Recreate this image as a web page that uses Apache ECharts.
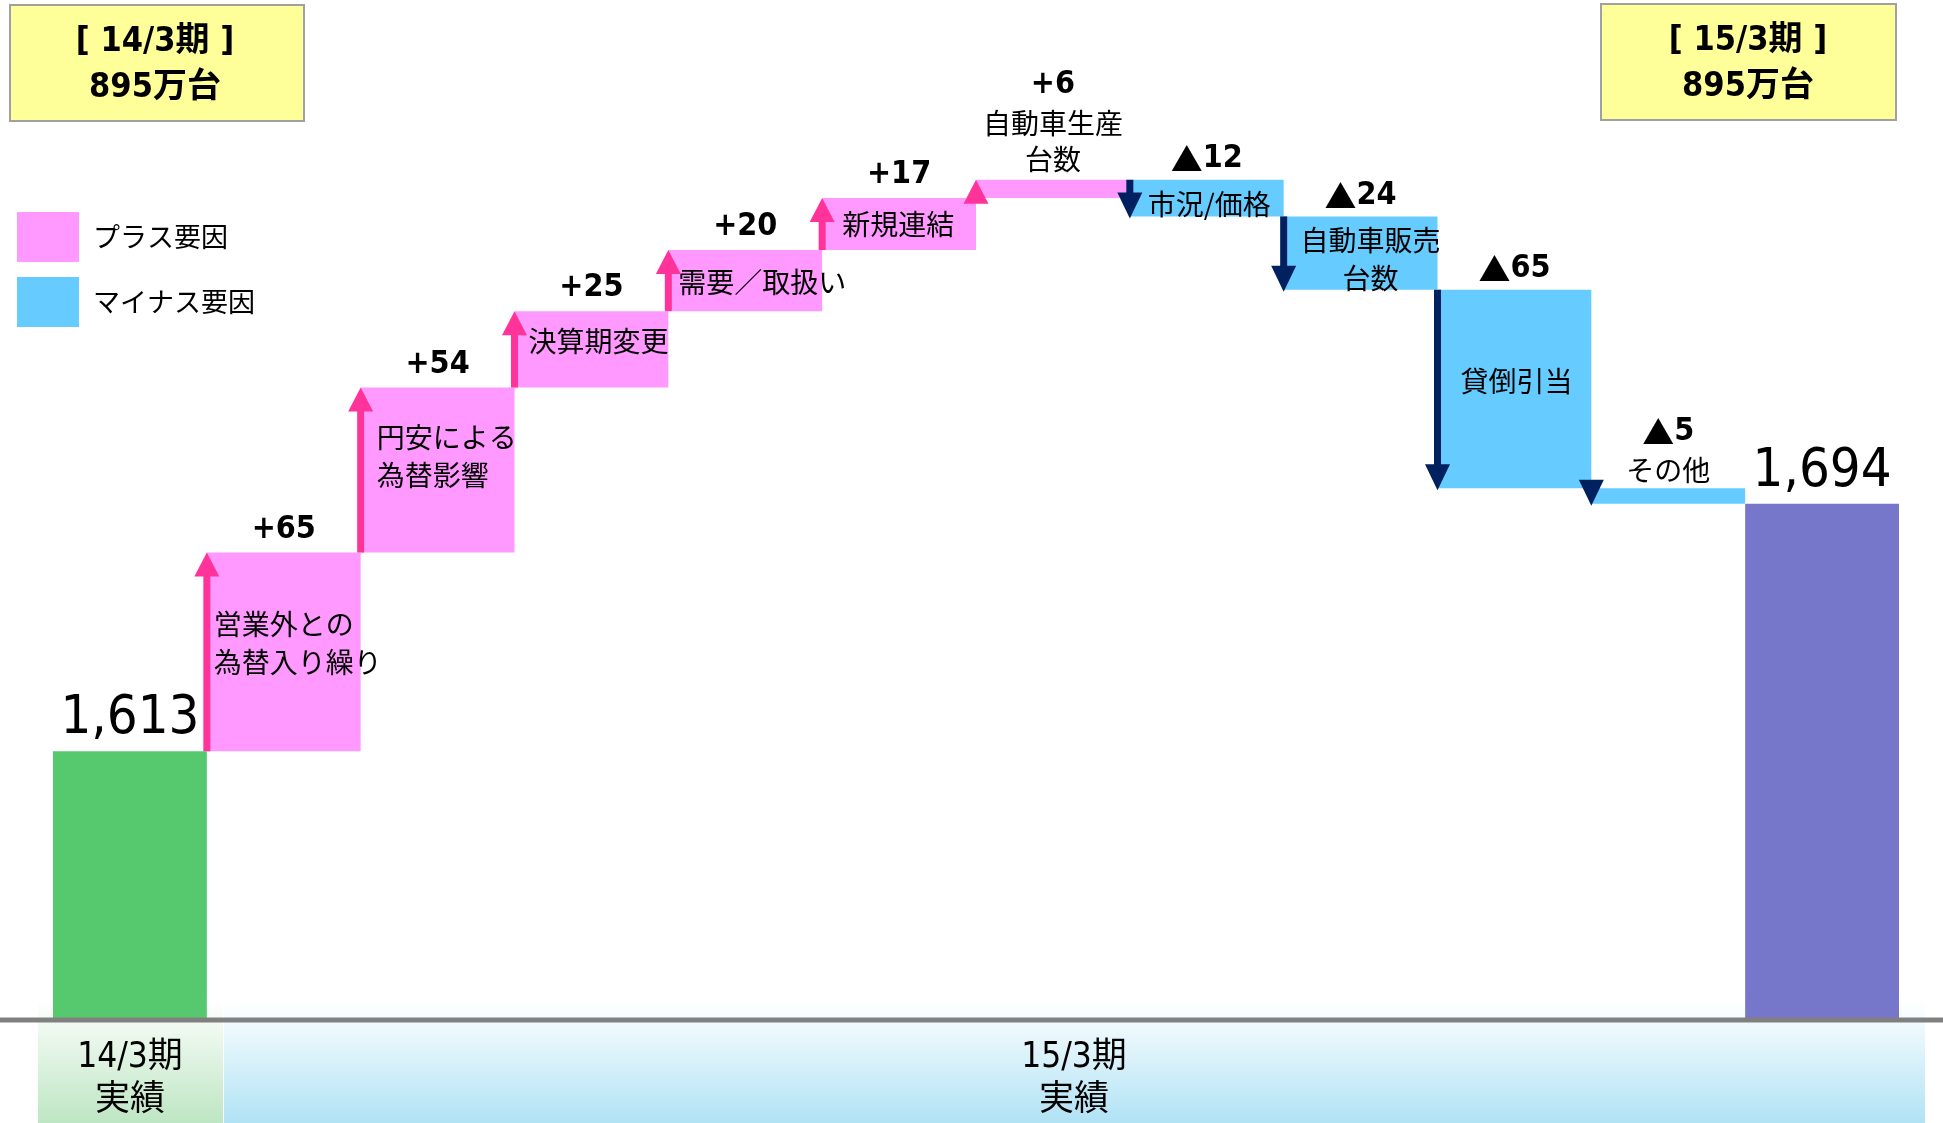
<!DOCTYPE html>
<html><head><meta charset="utf-8">
<script src="https://cdn.jsdelivr.net/npm/echarts@6/dist/echarts.min.js"></script>
<style>html,body{margin:0;padding:0;background:#fff}#c{width:1943px;height:1123px}</style>
</head><body><div id="c"></div>
<script>
// ---- data ----
const categories = ['14/3期実績','営業外との為替入り繰り','円安による為替影響','決算期変更','需要／取扱い','新規連結','自動車生産台数','市況/価格','自動車販売台数','貸倒引当','その他','15/3期実績'];
const startTotal = 1613;
const endTotal = 1694;
const deltas = [65, 54, 25, 20, 17, 6, -12, -24, -65, -5];
const deltaLabels = ['+65','+54','+25','+20','+17','+6','▲12','▲24','▲65','▲5'];
const boxLabels = ['営業外との\n為替入り繰り','円安による\n為替影響','決算期変更','需要／取扱い','新規連結','自動車生産\n台数','市況/価格','自動車販売\n台数','貸倒引当','その他'];
const legendNames = ['プラス要因','マイナス要因'];
const headerLeft = ['[ 14/3期 ]','895万台'];
const headerRight = ['[ 15/3期 ]','895万台'];
const periodLabels = ['14/3期\n実績','15/3期\n実績'];

// ---- style config (not data) ----
const FONT = '"DejaVu Sans Condensed","Noto Sans CJK JP",sans-serif';
const CJK = '"Noto Sans CJK JP",sans-serif';
const boxLabelPlace = [
  {pos:'insideLeft', dist:7, off:[0,-8]},
  {pos:'insideLeft', dist:16, off:[0,-14]},
  {pos:'insideLeft', dist:14, off:[0,-8]},
  {pos:'insideLeft', dist:10, off:[0,2]},
  {pos:'insideLeft', dist:20, off:[0,0]},
  {pos:'above'},
  {pos:'insideLeft', dist:18, off:[0,6]},
  {pos:'inside', dist:0, off:[10,6]},
  {pos:'inside', dist:0, off:[2,-8]},
  {pos:'above'}
];

// ---- build series data ----
const levels = [startTotal];
deltas.forEach(d => levels.push(levels[levels.length - 1] + d));
const n = categories.length;
const baseData = [], plusData = [], minusData = [], totalData = [];
for (let i = 0; i < n; i++) {
  if (i === 0 || i === n - 1) {
    baseData.push(0); plusData.push('-'); minusData.push('-');
    totalData.push({value: i === 0 ? startTotal : endTotal,
      itemStyle: {color: i === 0 ? '#56C86E' : '#7676CB'}});
  } else {
    const k = i - 1, d = deltas[k];
    const lo = Math.min(levels[k], levels[k + 1]);
    baseData.push(lo); totalData.push('-');
    const pl = boxLabelPlace[k];
    const lab = pl.pos === 'above' ? {show:false} : {
      show:true, position: pl.pos, distance: pl.dist, offset: pl.off,
      formatter: boxLabels[k], fontSize: 28, lineHeight: 38, color:'#000',
      fontFamily: CJK, align: pl.pos === 'inside' ? 'center' : 'left'
    };
    const item = {value: Math.abs(d), label: lab};
    if (d > 0) { plusData.push(item); minusData.push('-'); }
    else { minusData.push(item); plusData.push('-'); }
  }
}
const arrowData = deltas.map((d, k) => [k + 1, levels[k], levels[k + 1]]);

const chart = echarts.init(document.getElementById('c'));
const rich = {
  v: {fontSize: 32, fontWeight: 'bold', lineHeight: 42, color:'#000', fontFamily: FONT},
  t: {fontSize: 32, lineHeight: 42, color:'#000', fontFamily: CJK},
  d: {fontSize: 28, lineHeight: 36, color:'#000', fontFamily: CJK}
};
function valueText(s) {
  if (s.charAt(0) === '▲') return '{t|▲}{v|' + s.slice(1) + '}';
  return '{v|' + s + '}';
}
chart.setOption({
  backgroundColor: '#fff',
  animation: false,
  grid: {left: 53, right: 44, top: 27, bottom: 103},
  xAxis: {type:'category', data: categories, show: false},
  yAxis: {type:'value', min: 1525, max: 1850, show: false},
  legend: {
    data: legendNames, orient:'vertical', left: 12, top: 207,
    itemWidth: 62, itemHeight: 50, itemGap: 15, icon:'rect',
    textStyle: {fontSize: 27, color:'#000', fontFamily: CJK, padding:[0,0,0,9]},
    selectedMode: false
  },
  series: [
    {type:'bar', stack:'w', data: baseData, barCategoryGap:'0%', silent:true,
     itemStyle:{color:'rgba(0,0,0,0)'}},
    {type:'bar', stack:'w', name:'total', data: totalData, barCategoryGap:'0%',
     label:{show:true, position:'top', distance: 4, fontSize: 54, lineHeight: 56,
       fontFamily: FONT, color:'#000',
       formatter: p => echarts.format.addCommas(p.value)}},
    {type:'bar', stack:'w', name: legendNames[0], data: plusData, barCategoryGap:'0%',
     itemStyle:{color:'#FF99FF'}},
    {type:'bar', stack:'w', name: legendNames[1], data: minusData, barCategoryGap:'0%',
     itemStyle:{color:'#66CCFF'}},
    {type:'custom', data: arrowData, z: 5, silent:true,
     renderItem: function (params, api) {
       const i = api.value(0), from = api.value(1), to = api.value(2);
       const c1 = api.coord([i, from]), c2 = api.coord([i, to]);
       const bw = api.size([1, 0])[0];
       const x = c1[0] - bw / 2;
       const up = to > from;
       const color = up ? '#FF3399' : '#002060';
       const headH = 24, headW = 25, shaftW = 7;
       const y1 = c1[1], y2 = c2[1];
       const ch = [];
       if (up) {
         const hb = y2 + headH;
         if (y1 > hb) ch.push({type:'rect', shape:{x:x - shaftW/2, y:hb - 1, width:shaftW, height:y1 - hb + 1}, style:{fill:color}});
         ch.push({type:'polygon', shape:{points:[[x, y2],[x - headW/2, hb],[x + headW/2, hb]]}, style:{fill:color}});
       } else {
         const hb = y2 - headH;
         if (hb > y1) ch.push({type:'rect', shape:{x:x - shaftW/2, y:y1, width:shaftW, height:hb - y1 + 1}, style:{fill:color}});
         ch.push({type:'polygon', shape:{points:[[x, y2 + 2],[x - headW/2, hb],[x + headW/2, hb]]}, style:{fill:color}});
       }
       const k = params.dataIndex;
       let txt = valueText(deltaLabels[k]);
       if (boxLabelPlace[k].pos === 'above') {
         txt += '\n' + boxLabels[k].split('\n').map(s => '{d|' + s + '}').join('\n');
       }
       ch.push({type:'text', x: c1[0], y: Math.min(y1, y2) - (up ? 2 : 0),
         style:{text: txt, align:'center', verticalAlign:'bottom', rich: rich}});
       return {type:'group', children: ch};
     }}
  ],
  graphic: [
    {type:'rect', z:0, shape:{x:38, y:990, width:185, height:133},
     style:{fill:{type:'linear', x:0, y:0, x2:0, y2:1, colorStops:[{offset:0,color:'rgba(255,255,255,0)'},{offset:0.25,color:'#F2FAF3'},{offset:1,color:'#BDE6C3'}]}}},
    {type:'rect', z:0, shape:{x:224, y:990, width:1701, height:133},
     style:{fill:{type:'linear', x:0, y:0, x2:0, y2:1, colorStops:[{offset:0,color:'rgba(255,255,255,0)'},{offset:0.25,color:'#F1FAFD'},{offset:1,color:'#B0E2F5'}]}}},
    {type:'line', z:100, shape:{x1:0, y1:1020, x2:1943, y2:1020}, style:{stroke:'#808080', lineWidth:5}},
    {type:'text', z:100, x:130, y:1079, style:{text: periodLabels[0], align:'center', verticalAlign:'middle', fontSize:35, lineHeight:43, fontFamily: FONT, fill:'#000'}},
    {type:'text', z:100, x:1074, y:1079, style:{text: periodLabels[1], align:'center', verticalAlign:'middle', fontSize:35, lineHeight:43, fontFamily: FONT, fill:'#000'}},
    {type:'rect', z:100, shape:{x:10, y:5, width:294, height:116}, style:{fill:'#FFFF99', stroke:'#A0A0A0', lineWidth:2}},
    {type:'text', z:101, x:155, y:65, style:{text: headerLeft.join('\n'), align:'center', verticalAlign:'middle', fontSize:34, lineHeight:46, fontWeight:'bold', fontFamily: FONT, fill:'#000'}},
    {type:'rect', z:100, shape:{x:1601, y:4, width:295, height:116}, style:{fill:'#FFFF99', stroke:'#A0A0A0', lineWidth:2}},
    {type:'text', z:101, x:1748, y:64, style:{text: headerRight.join('\n'), align:'center', verticalAlign:'middle', fontSize:34, lineHeight:46, fontWeight:'bold', fontFamily: FONT, fill:'#000'}}
  ]
});
</script></body></html>
